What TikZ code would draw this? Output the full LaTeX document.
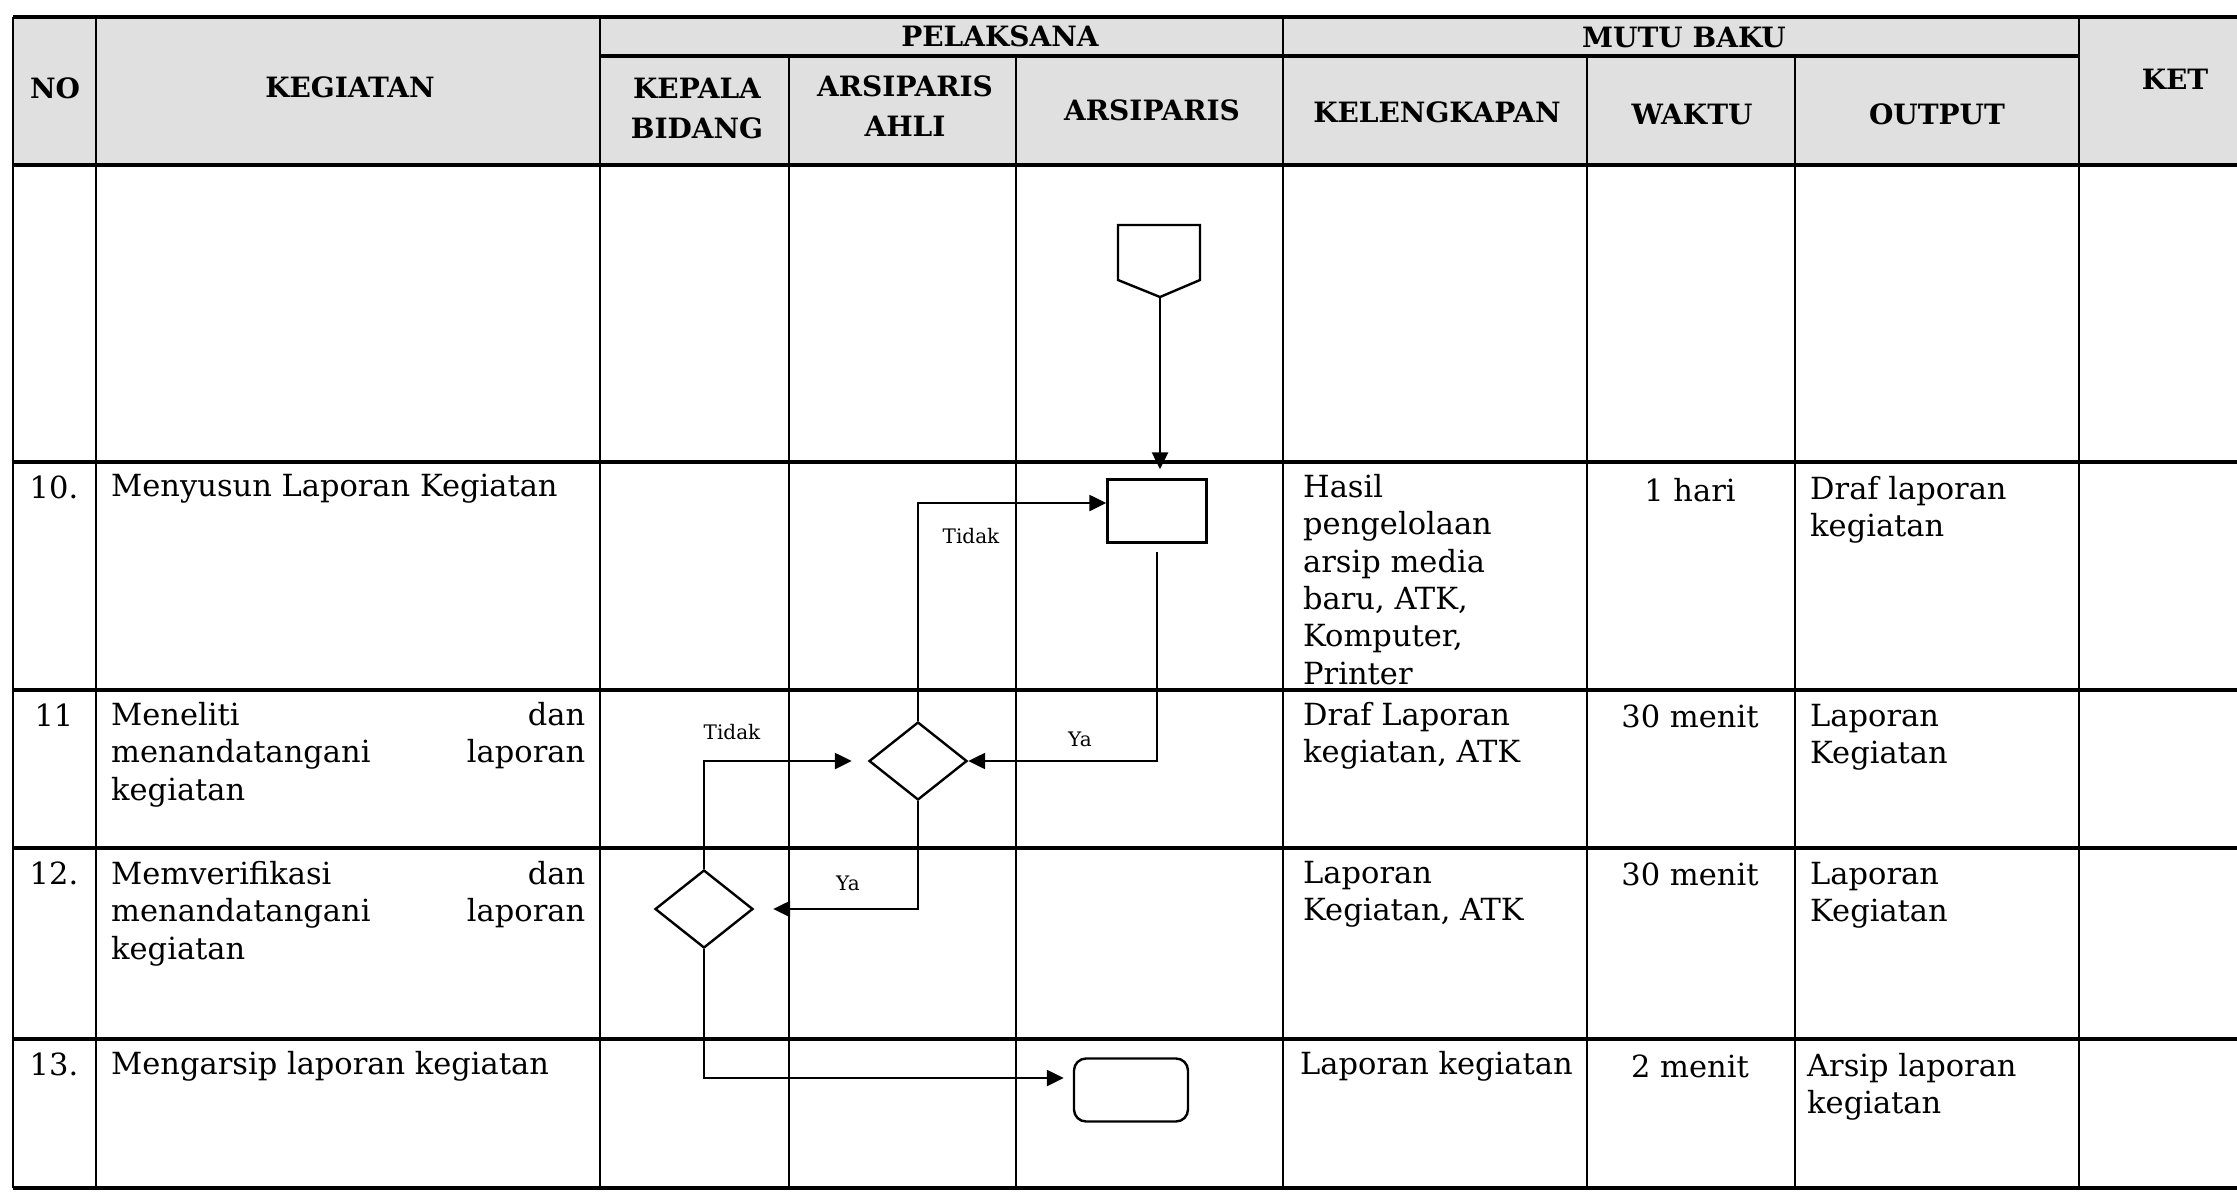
\documentclass[tikz,border=0pt]{standalone}
\usepackage{fontspec}
\setmainfont{DejaVu Serif}
\usetikzlibrary{arrows.meta,shapes.geometric,calc}
\newcommand\bodyfnt{\fontsize{30.5}{37.4}\selectfont}
\newcommand\headfnt{\fontsize{28}{40}\selectfont\bfseries}
\newcommand\lblfnt{\fontsize{20}{24}\selectfont}
\begin{document}
\begin{tikzpicture}[x=1pt,y=-1pt,
  rowline/.style={line width=3.2pt},
  colline/.style={line width=2.2pt},
  hd/.style={font=\headfnt, inner sep=0pt, align=center},
  bodytxt/.style={font=\bodyfnt, inner sep=0pt, anchor=north west, align=left},
  numtxt/.style={font=\bodyfnt, inner sep=0pt, anchor=north},
  wtxt/.style={font=\bodyfnt, inner sep=0pt, anchor=north},
  lbl/.style={font=\lblfnt, inner sep=0pt},
  flow/.style={line width=2.4pt},
  arr/.style={flow, -{Triangle[length=17pt,width=16pt]}},
  decision/.style={diamond, draw, line width=2.4pt, minimum width=98pt, minimum height=78pt, inner sep=0pt},
  process/.style={rectangle, draw, line width=2.4pt, minimum width=99pt, minimum height=63pt, inner sep=0pt},
  terminal/.style={rectangle, rounded corners=12pt, draw, line width=2.4pt, minimum width=114pt, minimum height=63pt, inner sep=0pt},
]
\useasboundingbox (0,0) rectangle (2237,1191);
\fill[white] (0,0) rectangle (2237,1191);
% header shading
\fill[black!12] (13,17) rectangle (2237,165);
% horizontal lines
\draw[rowline] (13,17) -- (2237,17);
\draw[rowline] (600,56) -- (2079,56);
\draw[rowline] (13,165) -- (2237,165);
\draw[rowline] (13,462) -- (2237,462);
\draw[rowline] (13,690) -- (2237,690);
\draw[rowline] (13,848) -- (2237,848);
\draw[rowline] (13,1039) -- (2237,1039);
\draw[rowline] (13,1188) -- (2237,1188);
% vertical lines
\draw[colline] (13,17) -- (13,1188);
\draw[colline] (96,17) -- (96,1188);
\draw[colline] (600,17) -- (600,1188);
\draw[colline] (789,56) -- (789,1188);
\draw[colline] (1016,56) -- (1016,1188);
\draw[colline] (1283,17) -- (1283,1188);
\draw[colline] (1587,56) -- (1587,1188);
\draw[colline] (1795,56) -- (1795,1188);
\draw[colline] (2079,17) -- (2079,1188);
% header texts
\node[hd] (hNo) at (55,88) {NO};
\node[hd] (hKeg) at (350,87) {KEGIATAN};
\node[hd] (hPel) at (1000,36) {PELAKSANA};
\node[hd] (hKep) at (697,108) {KEPALA\\BIDANG};
\node[hd] (hAhli) at (905,106) {ARSIPARIS\\AHLI};
\node[hd] (hArs) at (1152,110) {ARSIPARIS};
\node[hd] (hMutu) at (1684,37) {MUTU BAKU};
\node[hd] (hKel) at (1437,112) {KELENGKAPAN};
\node[hd] (hWak) at (1692,114) {WAKTU};
\node[hd] (hOut) at (1937,114) {OUTPUT};
\node[hd] (hKet) at (2175,79) {KET};
% row texts
\node[numtxt] (n10) at (54,476) {10.};
\node[bodytxt] (t10) at (111,474) {Menyusun Laporan Kegiatan};
\node[numtxt] (n11) at (54,704) {11};
\node[bodytxt, text width=474pt] (t11) at (111,702) {Meneliti\hfill dan\\menandatangani\hfill laporan\\kegiatan};
\node[numtxt] (n12) at (54,862) {12.};
\node[bodytxt, text width=474pt] (t12) at (111,861) {Memverifikasi\hfill dan\\menandatangani\hfill laporan\\kegiatan};
\node[numtxt] (n13) at (54,1053) {13.};
\node[bodytxt] (t13) at (111,1051) {Mengarsip laporan kegiatan};
% kelengkapan
\node[bodytxt] (k10) at (1303,474) {Hasil\\pengelolaan\\arsip media\\baru, ATK,\\Komputer,\\Printer};
\node[bodytxt] (k11) at (1303,702) {Draf Laporan\\kegiatan, ATK};
\node[bodytxt] (k12) at (1303,861) {Laporan\\Kegiatan, ATK};
\node[bodytxt] (k13) at (1300,1051) {Laporan kegiatan};
% waktu
\node[wtxt] (w10) at (1690,478) {1 hari};
\node[wtxt] (w11) at (1690,705) {30 menit};
\node[wtxt] (w12) at (1690,863) {30 menit};
\node[wtxt] (w13) at (1690,1055) {2 menit};
% output
\node[bodytxt] (o10) at (1810,476) {Draf laporan\\kegiatan};
\node[bodytxt] (o11) at (1810,704) {Laporan\\Kegiatan};
\node[bodytxt] (o12) at (1810,862) {Laporan\\Kegiatan};
\node[bodytxt] (o13) at (1807,1053) {Arsip laporan\\kegiatan};
% flowchart
\draw[flow] (1118,225) -- (1200,225) -- (1200,280) -- (1160,297) -- (1118,280) -- cycle;
\coordinate (st) at (1160,297);
\node[process] (p1) at (1157,511) {};
\node[decision] (d1) at (918,761) {};
\node[decision] (d2) at (704,909) {};
\node[terminal] (e1) at (1131,1090) {};
\draw[arr, shorten >=9pt] (st) -- (st |- p1.north);
\draw[arr, shorten <=8pt] (p1.south) |- (d1.east);
\draw[arr] (d1.north) |- ($(p1.west)+(0,-8)$);
\draw[arr, shorten >=16pt] (d2.north) |- (d1.west);
\draw[arr, shorten >=19pt] (d1.south) |- (d2.east);
\draw[arr, shorten >=9pt] (d2.south) |- ($(e1.west)+(0,-12)$);
\node[lbl] (l1) at (971,536) {Tidak};
\node[lbl] (l2) at (1080,739) {Ya};
\node[lbl] (l3) at (732,732) {Tidak};
\node[lbl] (l4) at (848,883) {Ya};
\end{tikzpicture}
\end{document}
